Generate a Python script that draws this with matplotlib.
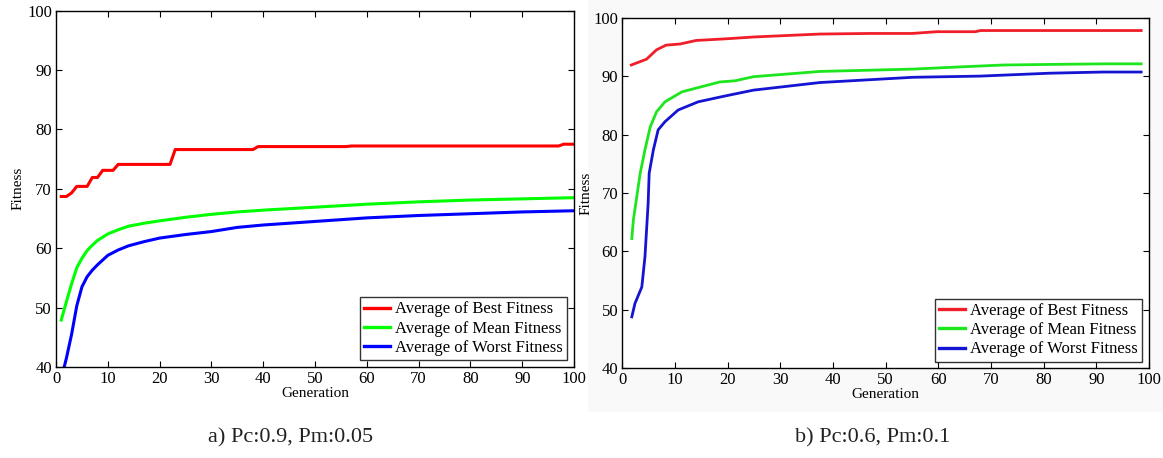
import matplotlib.pyplot as plt
from matplotlib.patches import Rectangle

# Данные левого графика (Pc:0.9, Pm:0.05)
gen_best_a = [1, 2, 3, 4, 6, 7, 8, 9, 11, 12, 22, 23, 38, 39, 56, 57, 97, 98, 100]
best_a = [68.7, 68.7, 69.3, 70.4, 70.4, 71.9, 71.9, 73.1, 73.1, 74.1, 74.1, 76.6, 76.6,
          77.1, 77.1, 77.2, 77.2, 77.5, 77.5]
gen_a = [1, 2, 3, 4, 5, 6, 7, 8, 10, 12, 14, 17, 20, 25, 30, 35, 40, 50, 60, 70, 80, 90, 100]
mean_a = [47.9, 51.0, 54.0, 56.7, 58.3, 59.6, 60.5, 61.3, 62.4, 63.1, 63.7, 64.2, 64.6,
          65.2, 65.7, 66.1, 66.4, 66.9, 67.4, 67.8, 68.1, 68.3, 68.5]
worst_a = [38.0, 41.5, 45.5, 50.3, 53.5, 55.2, 56.3, 57.2, 58.8, 59.7, 60.4, 61.1, 61.7,
           62.3, 62.8, 63.5, 63.9, 64.5, 65.1, 65.5, 65.8, 66.1, 66.3]

# Данные правого графика (Pc:0.6, Pm:0.1)
gen_best_b = [1.7, 4.6, 6.5, 8.3, 11, 14, 20, 25, 30, 37.5, 47, 55, 59.7, 67, 68, 98.5]
best_b = [91.9, 92.9, 94.5, 95.3, 95.5, 96.1, 96.4, 96.7, 96.9, 97.2, 97.3, 97.3, 97.6,
          97.6, 97.8, 97.8]
gen_mean_b = [1.8, 2.1, 3.4, 4.3, 5.3, 6.5, 8.1, 11.3, 15.1, 18.5, 21.4, 24.9, 37.5,
              55.2, 64.7, 72.3, 81.2, 91.3, 98.5]
mean_b = [62.2, 65.4, 73.4, 77.4, 81.3, 83.9, 85.6, 87.3, 88.2, 89.0, 89.2, 89.9, 90.8,
          91.2, 91.6, 91.9, 92.0, 92.1, 92.1]
gen_worst_b = [1.8, 2.4, 3.7, 4.3, 4.9, 5.1, 5.9, 6.8, 8.1, 10.6, 14.4, 19.5, 24.9, 37.5,
               55.2, 67.9, 81.2, 91.3, 98.5]
worst_b = [48.8, 51.1, 53.9, 59.1, 68.2, 73.4, 77.4, 80.8, 82.2, 84.2, 85.6, 86.6, 87.6,
           88.9, 89.8, 90.0, 90.5, 90.7, 90.7]

labels = ['Average of Best Fitness', 'Average of Mean Fitness', 'Average of Worst Fitness']
captions = ['a) Pc:0.9, Pm:0.05', 'b) Pc:0.6, Pm:0.1']

plt.rcParams['font.family'] = ['Liberation Serif', 'DejaVu Serif']

fig = plt.figure(figsize=(11.63, 4.58), dpi=100)

# Слегка серый фон под правым рисунком (скриншот)
bg = Rectangle((0.506, 0.10), 0.494, 0.90, transform=fig.transFigure,
               facecolor='#f9f9f9', edgecolor='none', zorder=-10)
fig.patches.append(bg)


def setup(ax, ylab_pad):
    # Оформление осей в стиле MATLAB
    ax.set_xlim(0, 100)
    ax.set_ylim(40, 100)
    ax.set_xticks(range(0, 101, 10))
    ax.set_yticks(range(40, 101, 10))
    ax.tick_params(direction='in', top=True, right=True, labelsize=12, length=4, pad=3)
    for s in ax.spines.values():
        s.set_linewidth(1.0)
    ax.set_xlabel('Generation', fontsize=11, labelpad=0)
    ax.set_ylabel('Fitness', fontsize=11, labelpad=ylab_pad)


def legend(ax):
    leg = ax.legend(loc='lower right', fontsize=12, handlelength=1.6, labelspacing=0.2,
                    borderaxespad=0.4, handletextpad=0.3, borderpad=0.25, fancybox=False)
    leg.get_frame().set_edgecolor('black')
    leg.get_frame().set_linewidth(1.0)
    for h in leg.get_lines():
        h.set_linewidth(2.4)


# Левый график
ax1 = fig.add_axes([0.0482, 0.1987, 0.4454, 0.7783])
ax1.plot(gen_best_a, best_a, color='#ff0000', lw=2.2, label=labels[0])
ax1.plot(gen_a, mean_a, color='#00ff00', lw=2.2, label=labels[1])
ax1.plot(gen_a, worst_a, color='#0000ff', lw=2.2, label=labels[2])
setup(ax1, 2)
legend(ax1)

# Правый график
ax2 = fig.add_axes([0.5351, 0.1959, 0.4529, 0.7655])
ax2.set_facecolor('white')
ax2.plot(gen_best_b, best_b, color='#f01e28', lw=2.0, label=labels[0])
ax2.plot(gen_mean_b, mean_b, color='#1ee61e', lw=2.0, label=labels[1])
ax2.plot(gen_worst_b, worst_b, color='#1414d2', lw=2.0, label=labels[2])
setup(ax2, 0.5)
legend(ax2)

# Подписи под графиками
fig.text(0.250, 0.045, captions[0], ha='center', va='center', fontsize=16, color='#222222')
fig.text(0.750, 0.045, captions[1], ha='center', va='center', fontsize=16, color='#222222')

plt.savefig('out.png', dpi=100)
